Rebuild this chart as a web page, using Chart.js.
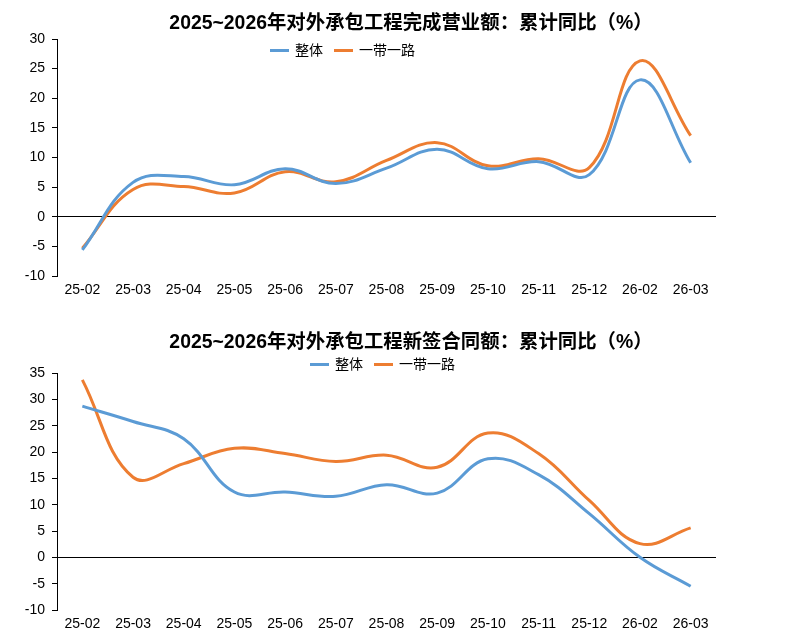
<!DOCTYPE html>
<html>
<head>
<meta charset="utf-8">
<script src="https://cdn.jsdelivr.net/npm/chart.js@4.4.1/dist/chart.umd.min.js"></script>
<style>
  body { margin: 0; background: #fff; }
  #wrap { position: relative; width: 798px; height: 642px; overflow: hidden; }
  canvas { position: absolute; left: 0; }
  .title { position: absolute; left: 0; width: 822px; text-align: center;
    font: bold 19.4px "Liberation Sans", "Noto Sans CJK SC", sans-serif; color: #000; line-height: 22px; }
  .legend { position: absolute; display: flex; align-items: center;
    font: 14px "Liberation Sans", "Noto Sans CJK SC", sans-serif; color: #000; line-height: 16px; }
  .legend i { display: inline-block; width: 19px; height: 3px; margin-right: 6px; }
  .legend span { margin-right: 11px; }
</style>
</head>
<body>
<div id="wrap">
  <canvas id="top-chart" width="798" height="321" style="top:0"></canvas>
  <canvas id="bottom-chart" width="798" height="321" style="top:321px"></canvas>
  <div class="title" style="top:11px">2025~2026年对外承包工程完成营业额：累计同比（%）</div>
  <div class="legend" style="left:270px; top:42px"><i style="background:#5B9BD5"></i><span>整体</span><i style="background:#ED7D31"></i><span>一带一路</span></div>
  <div class="title" style="top:330px">2025~2026年对外承包工程新签合同额：累计同比（%）</div>
  <div class="legend" style="left:310px; top:356px"><i style="background:#5B9BD5"></i><span>整体</span><i style="background:#ED7D31"></i><span>一带一路</span></div>
</div>
<script>
var categories = ["25-02","25-03","25-04","25-05","25-06","25-07","25-08","25-09","25-10","25-11","25-12","26-02","26-03"];

// 完成营业额 累计同比
var overallRevenue  = [-5.6, 5.8, 6.8, 5.4, 8.1, 5.6, 8.2, 11.4, 8.1, 9.3, 7.1, 23.1, 9.1];
var beltRoadRevenue = [-5.3, 4.6, 5.1, 4.0, 7.6, 5.9, 9.5, 12.5, 8.6, 9.8, 8.3, 26.3, 13.7];

// 新签合同额 累计同比
var overallContracts  = [28.7, 25.8, 22.5, 12.4, 12.4, 11.6, 13.8, 12.2, 18.7, 15.7, 8.3, 0.0, -5.5];
var beltRoadContracts = [33.7, 15.2, 17.8, 20.7, 19.7, 18.2, 19.4, 17.1, 23.6, 19.7, 10.8, 2.6, 5.6];

var tickFont = { family: '"Liberation Sans", Arial, sans-serif', size: 14 };

function makeChart(id, overall, beltRoad, yMin, yMax, pad) {
  return new Chart(document.getElementById(id), {
    type: 'line',
    data: {
      labels: categories,
      datasets: [{
        label: "整体",
        data: overall,
        borderColor: "#5B9BD5",
        borderWidth: 3,
        pointRadius: 0,
        tension: 0.4,
        fill: false
      }, {
        label: "一带一路",
        data: beltRoad,
        borderColor: "#ED7D31",
        borderWidth: 3,
        pointRadius: 0,
        tension: 0.4,
        fill: false
      }]
    },
    options: {
      responsive: false,
      animation: false,
      layout: { padding: pad },
      plugins: { legend: { display: false }, title: { display: false }, tooltip: { enabled: false } },
      scales: {
        x: {
          offset: true,
          grid: { display: false, drawTicks: false },
          border: { display: false },
          ticks: { color: '#000', font: tickFont, padding: 6, maxRotation: 0, autoSkip: false },
          afterFit: function(scale) { scale.height = 30; }
        },
        y: {
          min: yMin,
          max: yMax,
          ticks: { stepSize: 5, color: '#000', font: tickFont, padding: 7 },
          grid: {
            drawOnChartArea: true,
            color: function(ctx) { return ctx.tick && ctx.tick.value === 0 ? '#000' : 'rgba(0,0,0,0)'; },
            tickColor: '#000',
            tickLength: 5,
            lineWidth: 1
          },
          border: { display: true, color: '#000', width: 1 },
          afterFit: function(scale) { scale.width = 57; }
        }
      }
    }
  });
}

makeChart("top-chart", overallRevenue, beltRoadRevenue, -10, 30, { top: 39, right: 82, bottom: 15, left: 0 });
makeChart("bottom-chart", overallContracts, beltRoadContracts, -10, 35, { top: 52, right: 82, bottom: 2, left: 0 });
</script>
</body>
</html>
